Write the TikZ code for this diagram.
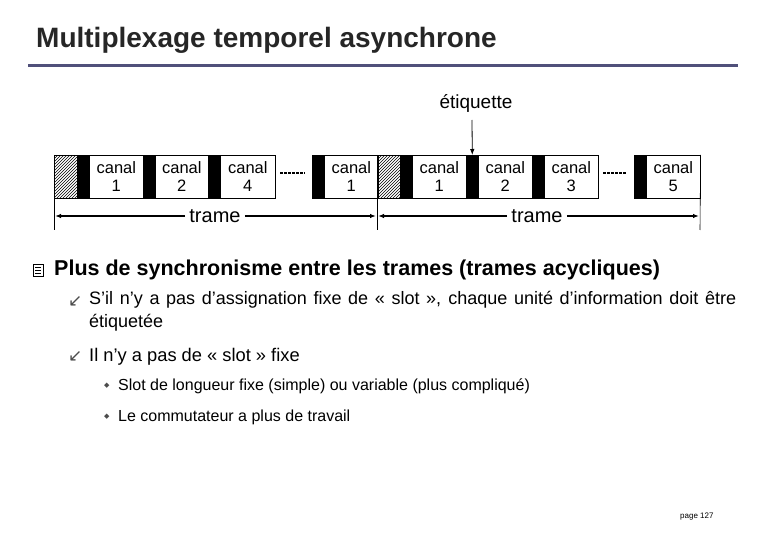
\documentclass[tikz,border=0pt]{standalone}
\usepackage{fontspec}
\setmainfont{Liberation Sans}
\newfontfamily\djv{DejaVu Sans}
\usetikzlibrary{patterns,arrows.meta}
\begin{document}
\begin{tikzpicture}[x=1pt,y=-1pt,
  cell/.style={draw,line width=0.6pt,minimum height=43pt,inner sep=0pt,font=\fontsize{16.5}{18}\selectfont,align=center,anchor=north west},
  blk/.style={fill=black,draw,line width=0.6pt,minimum height=43pt,minimum width=12pt,inner sep=0pt,anchor=north west},
  hat/.style={draw,line width=0.6pt,pattern=north east lines,minimum height=43pt,minimum width=23pt,inner sep=0pt,anchor=north west},
  txt/.style={anchor=west,inner sep=0pt}]
\useasboundingbox (0,0) rectangle (780,540);
\node[anchor=west,inner sep=0pt,font=\bfseries\fontsize{28}{30}\selectfont,text=black!85] (title) at (36,40) {Multiplexage temporel asynchrone};
\coordinate (rl) at (28,66); \coordinate (rr) at (738,66);
\draw[line width=3pt,color={rgb,255:red,80;green,80;blue,122}] (rl) -- (rr);
% frame 1
\node[hat] (h1) at (54,155) {};
\node[blk] (b1) at (77,155) {};
\node[cell,minimum width=54pt] (c1) at (89,155) {canal\\1};
\node[blk] (b2) at (143,155) {};
\node[cell,minimum width=53pt] (c2) at (155,155) {canal\\2};
\node[blk] (b3) at (208,155) {};
\node[cell,minimum width=55pt] (c3) at (220,155) {canal\\4};
\draw[line width=1.5pt,dash pattern=on 2.5pt off 1.5pt] (280,173) -- (305,173);
\node[blk] (b4) at (312,155) {};
\node[cell,minimum width=54pt] (c4) at (324,155) {canal\\1};
% frame 2
\node[hat] (h2) at (377,155) {};
\node[blk] (b5) at (400,155) {};
\node[cell,minimum width=54pt] (c5) at (412,155) {canal\\1};
\node[blk] (b6) at (466,155) {};
\node[cell,minimum width=54pt] (c6) at (478,155) {canal\\2};
\node[blk] (b7) at (532,155) {};
\node[cell,minimum width=54pt] (c7) at (544,155) {canal\\3};
\draw[line width=1.5pt,dash pattern=on 2.5pt off 1.5pt] (603,173) -- (626,173);
\node[blk] (b8) at (634,155) {};
\node[cell,minimum width=54pt] (c8) at (646,155) {canal\\5};
% ticks
\coordinate (t1) at (54,230); \coordinate (t2) at (377,230); \coordinate (t3) at (700,230);
\draw[line width=0.6pt] (h1.north west) -- (t1);
\draw[line width=0.6pt] (h2.north west) -- (t2);
\draw[line width=0.6pt] (c8.north east) -- (t3);
\coordinate (a1) at (55,216); \coordinate (a2) at (376,216);
\coordinate (a3) at (378,216); \coordinate (a4) at (699,216);
\node[fill=white,inner sep=4pt,font=\fontsize{20}{21}\selectfont] (tr1) at (215,216) {trame};
\node[fill=white,inner sep=4pt,font=\fontsize{20}{21}\selectfont] (tr2) at (537,216) {trame};
\draw[line width=1.3pt,-{Latex[length=6pt]}] (tr1.west) -- (a1);
\draw[line width=1.3pt,-{Latex[length=6pt]}] (tr1.east) -- (a2);
\draw[line width=1.3pt,-{Latex[length=6pt]}] (tr2.west) -- (a3);
\draw[line width=1.3pt,-{Latex[length=6pt]}] (tr2.east) -- (a4);
\node[font=\fontsize{19}{20}\selectfont] (et) at (476,103) {étiquette};
\coordinate (eb) at (472,120);
\draw[line width=0.8pt,-{Latex[length=6pt]}] (eb) -- (b6.north);
% bullets
\node[draw,fill=white,minimum width=10pt,minimum height=12pt,inner sep=0pt,line width=0.8pt] (ic) at (38,270) {};
\draw[line width=0.5pt] (35,267) -- (41,267) (35,270) -- (41,270) (35,273) -- (41,273);
\node[txt,font=\bfseries\fontsize{21.5}{23}\selectfont] (l1) at (54,270) {Plus de synchronisme entre les trames (trames acycliques)};
\node[txt,font=\djv\fontsize{17}{18}\selectfont,text=black!70] (s1) at (68,302) {↙};
\node[txt,anchor=north west,text width=647pt,align=justify,font=\fontsize{18}{23}\selectfont] (l2) at (89,291) {S’il n’y a pas d’assignation fixe de «~slot~», chaque unité d’information doit être étiquetée};
\node[txt,font=\djv\fontsize{17}{18}\selectfont,text=black!70] (s2) at (68,357) {↙};
\node[txt,font=\fontsize{18.3}{19}\selectfont] (l3) at (89,357) {Il n’y a pas de «~slot~» fixe};
\node[txt,font=\djv\fontsize{7}{8}\selectfont,text=black!70] (s3) at (104,386) {◆};
\node[txt,font=\fontsize{16}{17}\selectfont] (l4) at (118,386) {Slot de longueur fixe (simple) ou variable (plus compliqué)};
\node[txt,font=\djv\fontsize{7}{8}\selectfont,text=black!70] (s4) at (104,417) {◆};
\node[txt,font=\fontsize{16}{17}\selectfont] (l5) at (118,417) {Le commutateur a plus de travail};
\node[txt,font=\fontsize{8}{9}\selectfont] (pg) at (680,517) {page 127};
\end{tikzpicture}
\end{document}
